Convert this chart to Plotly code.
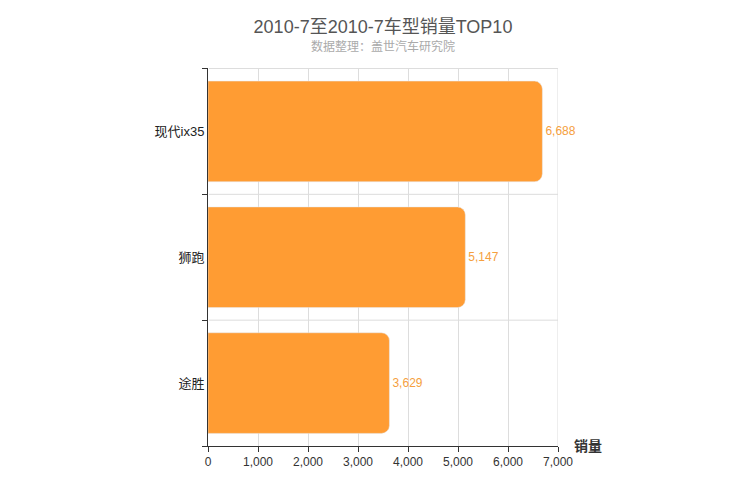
import plotly.graph_objects as go

models = ["途胜", "狮跑", "现代ix35"]
sales = [3629, 5147, 6688]

font = "Liberation Sans, Noto Sans CJK SC, sans-serif"

fig = go.Figure(go.Bar(
    x=sales, y=models, orientation="h",
    marker=dict(color="#ff9c33", cornerradius=8),
    width=0.8,
    text=[f"{v:,}" for v in sales], textposition="outside",
    textfont=dict(color="#f5a040", size=12, family=font),
    cliponaxis=False,
))

fig.update_layout(
    width=750, height=500,
    plot_bgcolor="white", paper_bgcolor="white",
    margin=dict(l=200, r=200, t=60, b=62),
    font=dict(family=font, color="#333", size=13),
    showlegend=False,
    title=dict(text="2010-7至2010-7车型销量TOP10", x=0.5, y=0.975, xanchor="center",
               font=dict(size=18, color="#555", family=font)),
    annotations=[
        dict(text="数据整理：盖世汽车研究院", x=0.5, y=1.0, xref="paper", yref="paper",
             yanchor="bottom", yshift=12, showarrow=False,
             font=dict(size=12, color="#aaa")),
        dict(text="<b>销量</b>", x=1.04, y=0, xref="paper", yref="paper", xanchor="left",
             yanchor="middle", showarrow=False, font=dict(size=14, color="#333")),
    ],
)
fig.update_xaxes(range=[0, 7000], dtick=1000, tickformat=",", showgrid=True,
                 gridcolor="#ddd", showline=True, linecolor="#333", ticks="outside",
                 tickcolor="#333", ticklen=5, mirror=False,
                 tickfont=dict(size=12, color="#333"))
fig.update_yaxes(showgrid=False, showline=True, linecolor="#333", ticks="outside",
                 tickcolor="#333", ticklen=5, tickson="boundaries",
                 tickfont=dict(size=13, color="#222"))
# horizontal separators between categories
for yb in [0.5, 1.5, 2.5]:
    fig.add_shape(type="line", xref="x", yref="y", x0=0, x1=7000, y0=yb, y1=yb,
                  line=dict(color="#ddd", width=1), layer="below")
fig.add_shape(type="line", xref="x", yref="paper", x0=7000, x1=7000, y0=0, y1=1,
              line=dict(color="#ddd", width=1), layer="below")

fig.write_html("out.html")
